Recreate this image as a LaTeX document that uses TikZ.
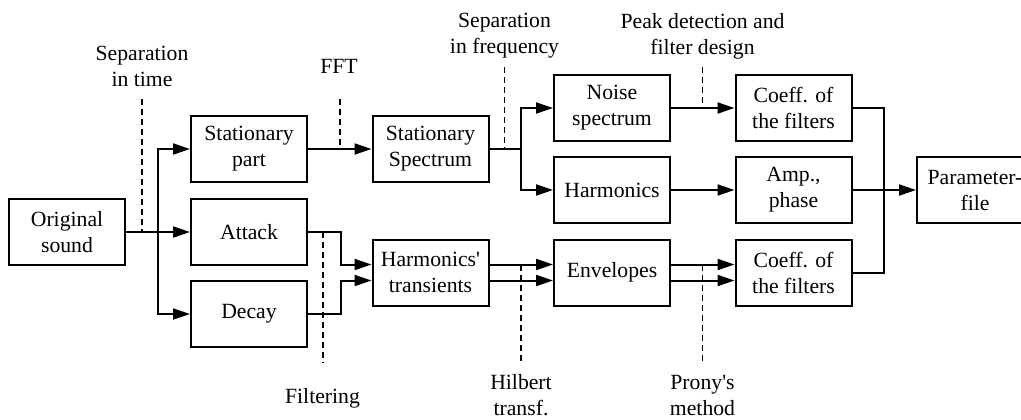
\documentclass[tikz,border=0pt]{standalone}
\usepackage{fontspec}
\setmainfont{Liberation Serif}
\usetikzlibrary{arrows.meta,positioning}
\tikzstyle{block}=[draw, line width=1pt, minimum width=58pt, minimum height=33pt, inner sep=2pt, align=center]
\tikzstyle{label}=[align=center, inner sep=0pt]
\tikzstyle{flowArrow}=[line width=1pt, -{Triangle[length=8.5pt,width=5.5pt]}]
\tikzstyle{flowLine}=[line width=1pt]
\tikzstyle{stepMark}=[line width=0.6pt, dash pattern=on 3pt off 2pt]

\begin{document}
\begin{tikzpicture}[x=0.5pt, y=-0.5pt, font=\fontsize{10.85}{13}\selectfont]
    \useasboundingbox (0,0) rectangle (1021,419);

    % Blocks
    \node[block] (orig) at (67, 232) {Original\\sound};
    \node[block] (stat) at (249, 149) {Stationary\\part};
    \node[block] (attack) at (249, 232) {Attack};
    \node[block] (decay) at (249, 314) {Decay};
    \node[block] (spec) at (430.5, 149) {Stationary\\Spectrum};
    \node[block] (trans) at (430.5, 272.5) {Harmonics\textquotesingle\\transients};
    \node[block] (noise) at (612, 108) {Noise\\spectrum};
    \node[block] (harm) at (612, 190) {Harmonics};
    \node[block] (env) at (612, 272.5) {Envelopes};
    \node[block] (coefA) at (793.5, 108) {Coeff. of\\the filters};
    \node[block] (amp) at (793.5, 190) {Amp.,\\phase};
    \node[block] (coefB) at (793.5, 272.5) {Coeff. of\\the filters};
    \node[block] (param) at (975, 190) {Parameter-\\file};

    % Labels
    \node[label] (lblTime) at (142, 66) {Separation\\in time};
    \node[label] (lblFFT) at (339, 66) {FFT};
    \node[label] (lblFreq) at (504.5, 36) {Separation\\in frequency};
    \node[label] (lblPeak) at (702.5, 36) {Peak detection and\\filter design};
    \node[label] (lblFilt) at (322.5, 398) {Filtering};
    \node[label] (lblHilb) at (521, 395) {Hilbert\\transf.};
    \node[label] (lblProny) at (702.5, 395) {Prony\textquotesingle s\\method};

    % Junctions
    \coordinate (splitTime) at (158, 232);
    \coordinate (splitFreq) at (521, 149);
    \coordinate (joinOut) at (884, 190);

    % Arcs
    \draw[flowLine] (orig.east) -- (splitTime);
    \draw[flowArrow] (splitTime) |- (stat.west);
    \draw[flowArrow] (splitTime) -- (attack.west);
    \draw[flowArrow] (splitTime) |- (decay.west);
    \draw[flowArrow] (stat.east) -- (spec.west);
    \draw[flowArrow] (attack.east) -- ++(33,0) |- ([yshift=4pt]trans.west);
    \draw[flowArrow] (decay.east) -- ++(33,0) |- ([yshift=-4pt]trans.west);
    \draw[flowArrow] ([yshift=4pt]trans.east) -- ([yshift=4pt]env.west);
    \draw[flowArrow] ([yshift=-4pt]trans.east) -- ([yshift=-4pt]env.west);
    \draw[flowLine] (spec.east) -- (splitFreq);
    \draw[flowArrow] (splitFreq) |- (noise.west);
    \draw[flowArrow] (splitFreq) |- (harm.west);
    \draw[flowArrow] (noise.east) -- (coefA.west);
    \draw[flowArrow] (harm.east) -- (amp.west);
    \draw[flowArrow] ([yshift=4pt]env.east) -- ([yshift=4pt]coefB.west);
    \draw[flowArrow] ([yshift=-4pt]env.east) -- ([yshift=-4pt]coefB.west);
    \draw[flowLine] (coefA.east) -| (joinOut);
    \draw[flowLine] (coefB.east) -| (joinOut);
    \draw[flowArrow] (amp.east) -- (param.west);

    % Processing steps
    \draw[stepMark] (142, 99) -- (142, 232);
    \draw[stepMark] (340, 99) -- (340, 149);
    \draw[stepMark] (323, 232) -- (323, 363);
    \draw[stepMark] (504.5, 67) -- (504.5, 149);
    \draw[stepMark] (702.5, 67) -- (702.5, 106);
    \draw[stepMark] (521, 264.5) -- (521, 363);
    \draw[stepMark] (702.5, 264.5) -- (702.5, 362);

\end{tikzpicture}
\end{document}
